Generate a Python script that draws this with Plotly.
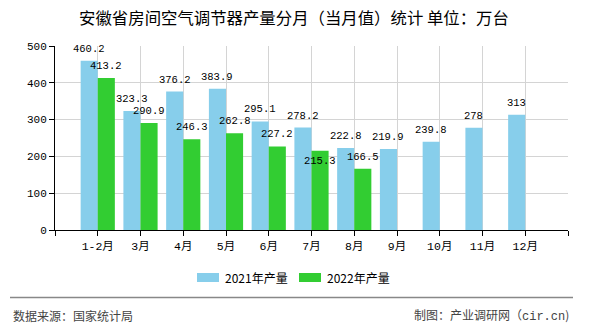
import plotly.graph_objects as go

# Monthly output of room air conditioners in Anhui (10k units)
months = ["1-2月", "3月", "4月", "5月", "6月", "7月", "8月", "9月", "10月", "11月", "12月"]
output_2021 = [460.2, 323.3, 376.2, 383.9, 295.1, 278.2, 222.8, 219.9, 239.8, 278, 313]
output_2022 = [413.2, 290.9, 246.3, 262.8, 227.2, 215.3, 166.5]
series_names = ["2021年产量", "2022年产量"]
colors = ["#87CEEB", "#32CD32"]
y_ticks = [0, 100, 200, 300, 400, 500]

W, H = 590, 330
L, R, T, B = 55, 568, 46, 230  # plot area in pixels

CJK = "Noto Sans CJK SC, Noto Sans, sans-serif"
NUM = "Liberation Mono, DejaVu Sans Mono, Noto Sans CJK SC, monospace"

BAR_W = 0.4
offsets = [-BAR_W, 0.0]
# value labels that sit just inside the bar top so they don't collide with a neighbour
inside_labels = {(1, 5)}


def px_x(p):
    return (p - L) / (R - L)


def px_y(p):
    return (B - p) / (B - T)


fig = go.Figure()
series = [output_2021, output_2022]
annotations = []
for si, (name, vals, col, off) in enumerate(zip(series_names, series, colors, offsets)):
    xs = list(range(len(vals)))
    fig.add_trace(go.Bar(
        x=xs, y=vals, name=name, marker=dict(color=col, line=dict(width=0)),
        width=BAR_W, offset=off, showlegend=False,
        hovertemplate="%{y}<extra>" + name + "</extra>",
    ))
    for xi, v in zip(xs, vals):
        inside = (si, xi) in inside_labels
        annotations.append(dict(
            x=xi + off + BAR_W / 2, y=v, xref="x", yref="y",
            text=f"{v:g}", showarrow=False,
            yanchor="top" if inside else "bottom", xanchor="center",
            yshift=-2 if inside else 4,
            font=dict(family=NUM, size=10.5, color="#000"),
        ))

# legend drawn as swatches + labels
legend_items = [(197, 223), (299, 325)]
shapes = []
for (sx, tx), name, col in zip(legend_items, series_names, colors):
    shapes.append(dict(type="rect", xref="paper", yref="paper",
                       x0=px_x(sx), x1=px_x(sx + 22), y0=px_y(282), y1=px_y(273),
                       fillcolor=col, line=dict(width=0)))
    annotations.append(dict(x=px_x(tx), y=px_y(277.5), xref="paper", yref="paper",
                            text=name, showarrow=False, xanchor="left", yanchor="middle",
                            font=dict(family=CJK, size=12, color="#000")))

# footer rule and source notes
shapes.append(dict(type="line", xref="paper", yref="paper",
                   x0=px_x(10), x1=px_x(573), y0=px_y(297.5), y1=px_y(297.5),
                   line=dict(color="#888888", width=1.5)))
annotations.append(dict(x=px_x(11), y=px_y(315), xref="paper", yref="paper",
                        text="数据来源：国家统计局", showarrow=False,
                        xanchor="left", yanchor="middle",
                        font=dict(family=CJK, size=12, color="#444")))
annotations.append(dict(x=px_x(571), y=px_y(315), xref="paper", yref="paper",
                        text="制图：产业调研网（<span style='font-family:Liberation Mono'>cir.cn</span>)",
                        showarrow=False, xanchor="right", yanchor="middle",
                        font=dict(family=CJK, size=12, color="#444")))

fig.update_layout(
    width=W, height=H,
    margin=dict(l=L, r=W - R, t=T, b=H - B, pad=0),
    paper_bgcolor="white", plot_bgcolor="white",
    title=dict(text="安徽省房间空气调节器产量分月（当月值）统计 单位：万台",
               x=294 / W, xanchor="center", xref="container",
               y=1 - 18.5 / H, yanchor="middle", yref="container",
               font=dict(family=CJK, size=16.4, color="#000")),
    barmode="overlay",
    xaxis=dict(
        range=[-1, len(months)],
        tickmode="array",
        tickvals=list(range(-1, len(months) + 1)),
        ticktext=[""] + months + [""],
        showgrid=True, gridcolor="#d4d4d4", gridwidth=1,
        showline=True, linecolor="#000", linewidth=1,
        ticks="outside", ticklen=5, tickcolor="#000",
        zeroline=False,
        tickfont=dict(family=NUM, size=11.5, color="#000"),
        fixedrange=True,
    ),
    yaxis=dict(
        range=[0, 500],
        tickmode="array", tickvals=y_ticks,
        showgrid=True, gridcolor="#d4d4d4", gridwidth=1,
        showline=True, linecolor="#000", linewidth=1,
        ticks="outside", ticklen=5, tickcolor="#000",
        zeroline=False,
        tickfont=dict(family=NUM, size=11, color="#000"),
        fixedrange=True,
    ),
    shapes=shapes,
    annotations=annotations,
    showlegend=False,
)

fig.write_html("out.html")
